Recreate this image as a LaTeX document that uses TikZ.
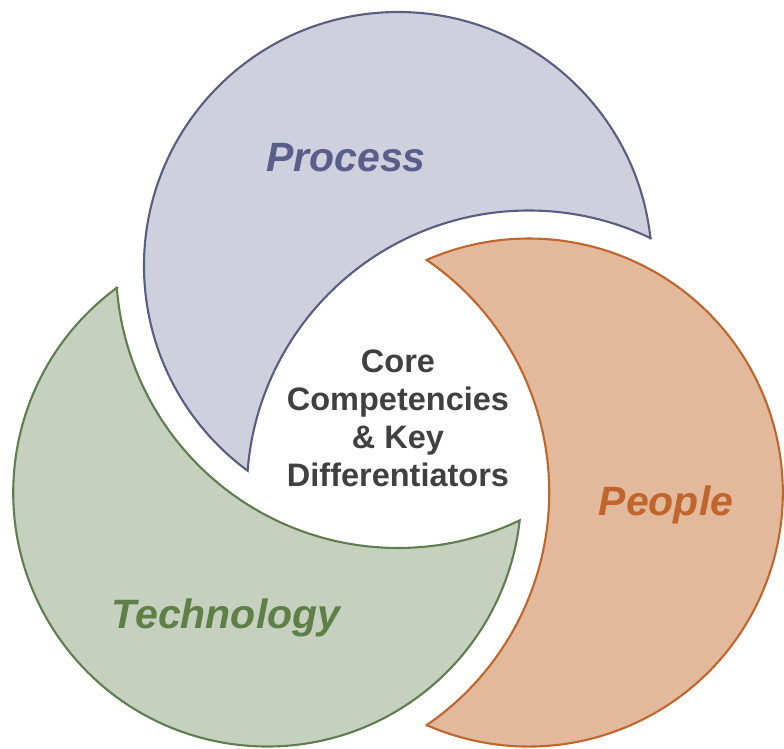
\documentclass[tikz,border=0pt]{standalone}
\usepackage{fontspec}
\setmainfont{Liberation Sans}
\begin{document}
\begin{tikzpicture}[x=1pt,y=1pt]
  % palette
  \definecolor{procfill}{HTML}{CED1DD}
  \definecolor{procline}{HTML}{5A5D80}
  \definecolor{proctext}{HTML}{5B5E8A}
  \definecolor{techfill}{HTML}{C5D1BE}
  \definecolor{techline}{HTML}{5F7D4E}
  \definecolor{techtext}{HTML}{5F7F48}
  \definecolor{peopfill}{HTML}{E2B99A}
  \definecolor{peopline}{HTML}{C0662C}
  \definecolor{peoptext}{HTML}{C0652C}
  \definecolor{coretext}{HTML}{404040}
  \tikzset{
    petal/.style={line width=2.1pt, line join=miter},
    label/.style={font=\fontsize{41}{48}\selectfont\bfseries\itshape, anchor=base},
  }
  \useasboundingbox (-398,-331) rectangle (386,417);
  % each crescent: circle of radius 254 at distance 151 from the centre,
  % minus the next circle enlarged by a 28 gap
  \newcommand{\crescent}[3]{%
    \begin{scope}[rotate=#1]
      \draw[petal, draw=#3, fill=#2]
        (0,151) ++(6.3:254) arc[start angle=6.3, end angle=233.7, radius=254]
        arc[start angle=175.57, end angle=64.43, radius=282] -- cycle;
    \end{scope}}
  \crescent{0}{procfill}{procline}
  \crescent{-120}{peopfill}{peopline}
  \crescent{-240}{techfill}{techline}
  % labels
  \node[label, text=proctext] (process) at (-52,246) {Process};
  \node[label, text=peoptext] (people) at (268,-98) {People};
  \node[label, text=techtext] (technology) at (-172,-211) {Technology};
  \node[font=\fontsize{32.5}{38}\selectfont\bfseries, text=coretext, align=center]
    (core) at (0,-1) {Core\\Competencies\\\& Key\\Differentiators};
\end{tikzpicture}
\end{document}
